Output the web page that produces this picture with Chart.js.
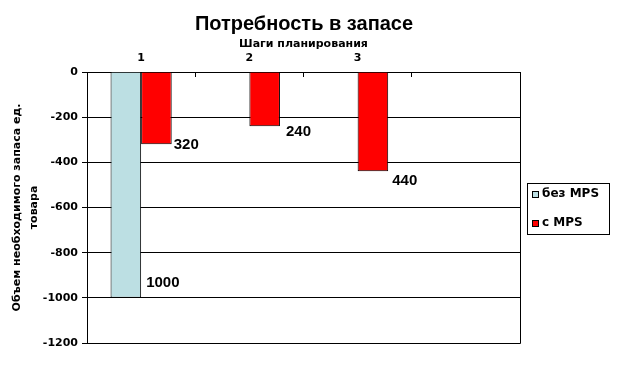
<!DOCTYPE html>
<html>
<head>
<meta charset="utf-8">
<script src="https://cdn.jsdelivr.net/npm/chart.js@4.4.0/dist/chart.umd.min.js"></script>
<style>
  body { margin: 0; background: #fff; }
</style>
</head>
<body>
<canvas id="chart" width="617" height="372"></canvas>
<script>
const steps = ['1', '2', '3', ''];
const withoutMps = [-1000, null, null, null];
const withMps = [-320, -240, -440, null];
const yTicks = [0, -200, -400, -600, -800, -1000, -1200];
const seriesNames = ['без MPS', 'с MPS'];

const axisFont = { family: "Verdana, 'DejaVu Sans', sans-serif", size: 11, weight: 'bold' };
const labelFont = "bold 15px Arial, 'Liberation Sans', sans-serif";

// сдвиги подписей, как в исходной диаграмме (dataset-index)
const labelShift = { '0-0': [5, -15], '1-0': [2, 1], '1-1': [6, 6], '1-2': [4, 9] };

const valueLabels = {
  id: 'valueLabels',
  afterDatasetsDraw(chart) {
    const ctx = chart.ctx;
    ctx.save();
    ctx.font = labelFont;
    ctx.fillStyle = '#000';
    ctx.textAlign = 'left';
    ctx.textBaseline = 'middle';
    chart.data.datasets.forEach((ds, di) => {
      chart.getDatasetMeta(di).data.forEach((bar, i) => {
        const v = ds.data[i];
        if (v === null) return;
        const s = labelShift[di + '-' + i] || [4, 0];
        ctx.fillText(String(Math.abs(v)), bar.x + bar.width / 2 + s[0], bar.y + s[1]);
      });
    });
    ctx.restore();
  }
};

const frameAndLegend = {
  id: 'frameAndLegend',
  afterDraw(chart) {
    const ctx = chart.ctx;
    const a = chart.chartArea;
    ctx.save();
    ctx.strokeStyle = '#000';
    ctx.lineWidth = 1;
    ctx.beginPath();
    ctx.moveTo(Math.round(a.right) + 0.5, Math.round(a.top));
    ctx.lineTo(Math.round(a.right) + 0.5, Math.round(a.bottom) + 0.5);
    ctx.lineTo(Math.round(a.left), Math.round(a.bottom) + 0.5);
    ctx.stroke();

    // легенда
    const lx = Math.round(a.right) + 7, ly = 183;
    ctx.fillStyle = '#fff';
    ctx.fillRect(lx, ly, 82, 51);
    ctx.strokeRect(lx + 0.5, ly + 0.5, 82, 51);
    ctx.font = "bold 12px Verdana, 'DejaVu Sans', sans-serif";
    ctx.textBaseline = 'middle';
    chart.data.datasets.forEach((ds, i) => {
      const cy = ly + 11 + i * 29;
      ctx.fillStyle = ds.backgroundColor;
      ctx.fillRect(lx + 5, cy - 3, 7, 7);
      ctx.strokeRect(lx + 5.5, cy - 2.5, 6, 6);
      ctx.fillStyle = '#000';
      ctx.fillText(ds.label, lx + 15, cy);
    });
    ctx.restore();
  }
};

new Chart(document.getElementById('chart'), {
  type: 'bar',
  data: {
    labels: steps,
    datasets: [
      { label: seriesNames[0], data: withoutMps, backgroundColor: '#BCDFE3', borderColor: '#000', borderWidth: 1 },
      { label: seriesNames[1], data: withMps, backgroundColor: '#FF0000', borderColor: '#000', borderWidth: 1 }
    ]
  },
  options: {
    responsive: false,
    animation: false,
    layout: { padding: { left: 0, right: 9, top: 0, bottom: 29 } },
    datasets: { bar: { categoryPercentage: 0.565, barPercentage: 1 } },
    plugins: {
      legend: { display: false },
      tooltip: { enabled: false },
      title: {
        display: true,
        text: 'Потребность в запасе',
        color: '#000',
        font: { family: "Arial, 'Liberation Sans', sans-serif", size: 20, weight: 'bold' },
        padding: { top: 12, bottom: 0 }
      }
    },
    scales: {
      x: {
        position: 'top',
        grid: { offset: true, drawOnChartArea: false, color: '#000', tickLength: -5 },
        border: { color: '#000' },
        ticks: { color: '#000', font: axisFont, padding: 12, maxRotation: 0 },
        title: {
          display: true,
          text: 'Шаги планирования',
          color: '#000',
          font: axisFont,
          padding: { top: 2, bottom: 0 }
        },
        afterFit(s) { s.height = 36; }
      },
      y: {
        min: -1200,
        max: 0,
        afterBuildTicks(s) { s.ticks = yTicks.map(v => ({ value: v })); },
        grid: { color: '#000', tickLength: 5 },
        border: { color: '#000' },
        ticks: { color: '#000', font: axisFont, padding: 4, callback: v => String(v) },
        title: {
          display: true,
          text: ['Объем необходимого запаса ед.', 'товара'],
          color: '#000',
          font: { family: "Verdana, 'DejaVu Sans', sans-serif", size: 11, weight: 'bold', lineHeight: 1.5 },
          padding: { top: 9, bottom: 0 }
        },
        afterFit(s) { s.width = 87; }
      },
      spacer: {
        type: 'linear',
        position: 'right',
        display: true,
        grid: { display: false },
        border: { display: false },
        ticks: { display: false },
        afterFit(s) { s.width = 88; }
      }
    }
  },
  plugins: [valueLabels, frameAndLegend]
});
</script>
</body>
</html>
